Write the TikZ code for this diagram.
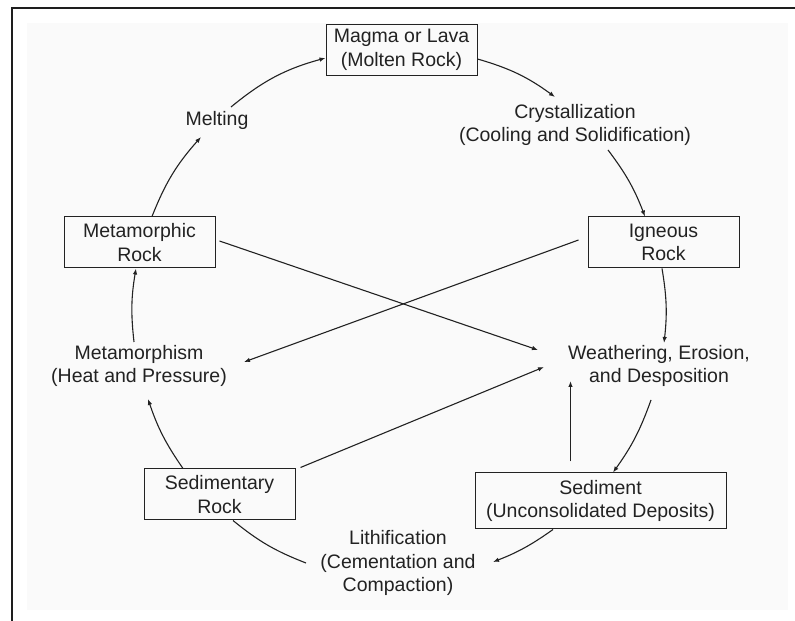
\documentclass[tikz,border=0pt]{standalone}
\usepackage{fontspec}
\setmainfont{Liberation Sans}
\usetikzlibrary{arrows.meta}
\definecolor{ink}{RGB}{34,34,34}
\definecolor{framec}{RGB}{30,30,30}
\definecolor{bgc}{RGB}{250,250,250}
\tikzset{
  rockbox/.style={draw=ink, line width=1pt, fill=bgc, minimum width=151pt, minimum height=51pt,
    inner sep=0pt, align=center, text=ink, font=\fontsize{19.5pt}{23.5pt}\selectfont},
  proc/.style={inner sep=0pt, align=center, text=ink, font=\fontsize{19.5pt}{23.5pt}\selectfont},
  flow/.style={draw=ink, line width=1.1pt, -{Latex[length=6pt,width=4.5pt]}},
  plain/.style={draw=ink, line width=1.1pt}
}
\begin{document}
\begin{tikzpicture}[x=1pt,y=1pt]
\useasboundingbox (0,0) rectangle (795,621);
\fill[white] (0,0) rectangle (795,621);
\fill[bgc] (27,11) rectangle (788,598);
\draw[framec, line width=2pt] (12,0) -- (12,613) -- (795,613);

% nodes
\node[rockbox] (magma) at (401.5,571) {Magma or Lava\\(Molten Rock)};
\node[rockbox] (ign) at (663.5,378.5) {Igneous\\Rock};
\node[rockbox] (metr) at (139.5,378.5) {Metamorphic\\Rock};
\node[rockbox] (sedr) at (219.5,126.5) {Sedimentary\\Rock};
\node[rockbox, minimum width=251pt, minimum height=56pt] (sedim) at (600.5,120) {Sediment\\(Unconsolidated Deposits)};
\node[proc] (melt) at (217,501) {Melting};
\node[proc] (crys) at (575,496) {Crystallization\\(Cooling and Solidification)};
\node[proc] (weath) at (659,255) {Weathering, Erosion,\\and Desposition};
\node[proc] (metam) at (139,255) {Metamorphism\\(Heat and Pressure)};
\node[proc] (lith) at (398,58) {Lithification\\(Cementation and\\Compaction)};

% cycle connectors
\draw[flow] ([xshift=14pt,yshift=13pt]melt.center) to[bend left=12] ([yshift=-8pt]magma.west);
\draw[flow] ([xshift=12.5pt]metr.north) to[bend left=10] ([xshift=-16pt,yshift=-17pt]melt.center);
\draw[flow] ([yshift=-9pt]magma.east) to[bend left=10] ([xshift=-20pt,yshift=28pt]crys.center);
\draw[flow] ([xshift=33pt,yshift=-25pt]crys.center) to[bend left=8] ([xshift=-18.5pt]ign.north);
\draw[flow] ([xshift=-1.5pt]ign.south) to[bend left=8] ([xshift=5pt,yshift=23pt]weath.center);
\draw[flow] ([xshift=-8pt,yshift=-34pt]weath.center) to[bend left=8] ([xshift=12.5pt]sedim.north);
\draw[flow] ([xshift=-47.5pt]sedim.south) to[bend left=7] ([xshift=95pt,yshift=1pt]lith.center);
\draw[plain] ([xshift=-92pt]lith.center) to[bend left=9] ([xshift=13.5pt]sedr.south);
\draw[flow] ([xshift=-36.5pt]sedr.north) to[bend left=8] ([xshift=9pt,yshift=-33pt]metam.center);
\draw[flow] ([xshift=-5pt,yshift=24pt]metam.center) to[bend left=8] ([xshift=-3.5pt]metr.south);

% cross connectors
\draw[flow] ([xshift=4pt,yshift=1.5pt]metr.east) -- ([xshift=-121pt,yshift=16pt]weath.center);
\draw[flow] ([xshift=-9pt,yshift=2.5pt]ign.west) -- ([xshift=105pt,yshift=4pt]metam.center);
\draw[flow] ([xshift=5pt,yshift=1pt]sedr.north east) -- ([xshift=-115pt,yshift=-1pt]weath.center);
\draw[flow] ([xshift=-30pt,yshift=11pt]sedim.north) -- ([xshift=-88.5pt,yshift=-15pt]weath.center);
\end{tikzpicture}
\end{document}
